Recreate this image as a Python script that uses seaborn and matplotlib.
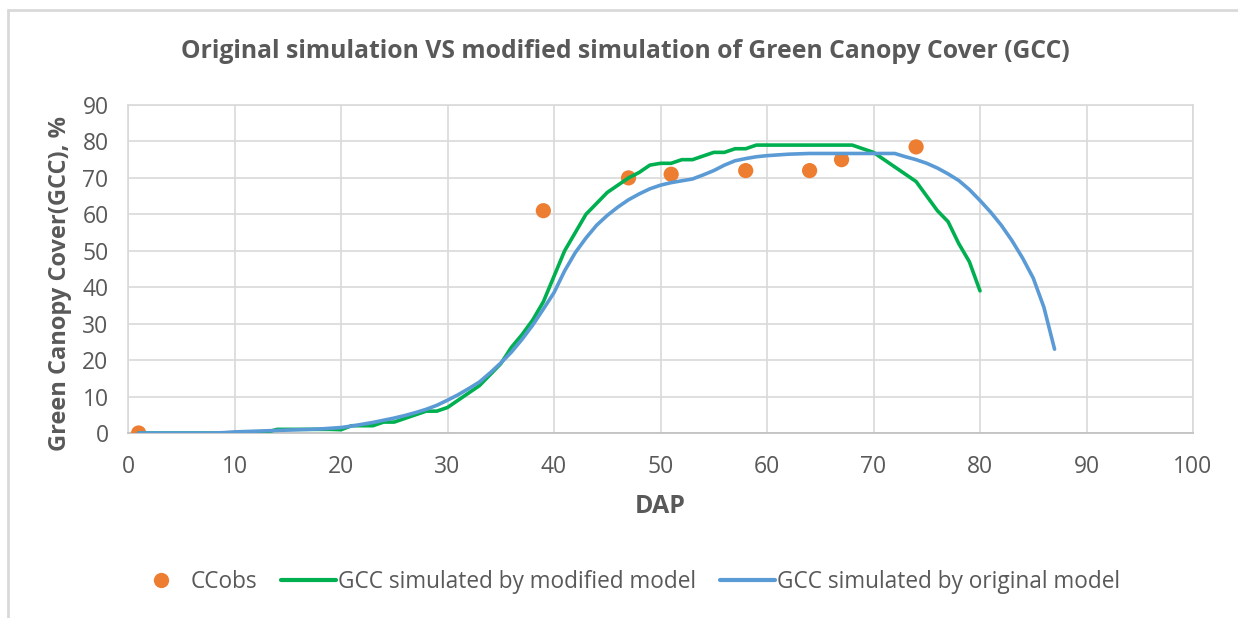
import matplotlib
matplotlib.use("Agg")
import matplotlib.pyplot as plt
from matplotlib.lines import Line2D
import seaborn as sns
import pandas as pd
import numpy as np

# ---- data ----
obs_dap = [1, 39, 47, 51, 58, 64, 67, 74]
obs_cc = [0, 61, 70, 71, 72, 72, 75, 78.5]

mod_dap = list(range(1, 81))
mod_cc = [0, 0, 0, 0, 0, 0, 0, 0, 0, 0,
          0, 0, 0.2, 1.0, 1.0, 1.0, 1.0, 1.0, 1.0, 0.9,
          2.0, 2.0, 2.0, 3.0, 3.0, 4.0, 5.0, 6.0, 6.0, 7.0,
          9.0, 11.0, 13.0, 16.0, 19.0, 23.5, 27.0, 31.0, 36.0, 43.0,
          50.0, 55.0, 60.0, 63.0, 66.0, 68.0, 70.0, 71.5, 73.5, 74.0,
          74.0, 75.0, 75.0, 76.0, 77.0, 77.0, 78.0, 78.0, 79.0, 79.0,
          79.0, 79.0, 79.0, 79.0, 79.0, 79.0, 79.0, 79.0, 78.0, 77.0,
          75.0, 73.0, 71.0, 69.0, 65.0, 61.0, 58.0, 52.0, 47.0, 39.0]

orig_dap = list(range(1, 88))
orig_cc = [0, 0, 0, 0, 0, 0, 0, 0, 0.1, 0.3,
           0.4, 0.5, 0.6, 0.7, 0.8, 0.9, 1.0, 1.1, 1.3, 1.5,
           1.9, 2.4, 2.9, 3.5, 4.1, 4.8, 5.6, 6.5, 7.6, 9.0,
           10.5, 12.2, 14.0, 16.5, 19.2, 22.2, 25.7, 29.6, 34.0, 38.5,
           44.5, 49.5, 53.5, 57.0, 59.7, 62.0, 64.0, 65.6, 67.0, 68.0,
           68.7, 69.2, 69.7, 70.8, 72.0, 73.5, 74.7, 75.3, 75.8, 76.1,
           76.3, 76.5, 76.6, 76.7, 76.7, 76.7, 76.7, 76.7, 76.7, 76.7,
           76.7, 76.7, 75.8, 75.0, 74.0, 72.7, 71.1, 69.3, 66.8, 63.8,
           60.6, 57.0, 52.8, 48.0, 42.5, 34.5, 23.0]

x_ticks = [0, 10, 20, 30, 40, 50, 60, 70, 80, 90, 100]
y_ticks = [0, 10, 20, 30, 40, 50, 60, 70, 80, 90]

title = "Original simulation VS modified simulation of Green Canopy Cover (GCC)"
xlabel = "DAP"
ylabel = "Green Canopy Cover(GCC), %"
lab_obs = "CCobs"
lab_mod = "GCC simulated by modified model"
lab_orig = "GCC simulated by original model"

# ---- style ----
sns.set_theme(style="white")
plt.rcParams['font.family'] = ['Open Sans', 'DejaVu Sans']

TXT = "#595959"
GRID = "#D9D9D9"
C_OBS = "#ED7D31"
C_MOD = "#00B050"
C_ORIG = "#5B9BD5"

fig = plt.figure(figsize=(12.38, 6.18), dpi=100)
ax = fig.add_axes([128/1238, 1-433/618, (1193-128)/1238, (433-105)/618])

df_obs = pd.DataFrame({"DAP": obs_dap, "CC": obs_cc})
df_mod = pd.DataFrame({"DAP": mod_dap, "CC": mod_cc})
df_orig = pd.DataFrame({"DAP": orig_dap, "CC": orig_cc})

sns.scatterplot(data=df_obs, x="DAP", y="CC", color=C_OBS, s=120, edgecolor="none",
                ax=ax, legend=False, zorder=3)
sns.lineplot(data=df_mod, x="DAP", y="CC", color=C_MOD, lw=2.6, ax=ax, legend=False, zorder=4)
sns.lineplot(data=df_orig, x="DAP", y="CC", color=C_ORIG, lw=2.6, ax=ax, legend=False, zorder=5)

ax.set_xlim(0, 100)
ax.set_ylim(0, 90)
ax.set_xticks(x_ticks)
ax.set_yticks(y_ticks)
ax.grid(True, color=GRID, lw=1.2)
ax.set_axisbelow(True)
for s in ax.spines.values():
    s.set_color(GRID)
    s.set_linewidth(1.2)
ax.spines['bottom'].set_color("#BFBFBF")
ax.tick_params(axis='both', length=0, labelsize=16.5, labelcolor=TXT)
ax.tick_params(axis='x', pad=16)
ax.tick_params(axis='y', pad=14)

ax.set_xlabel(xlabel, fontsize=18, fontweight='bold', color=TXT, va='center')
ax.xaxis.set_label_coords(0.4995, -0.2256)
ax.set_ylabel(ylabel, fontsize=17, fontweight='bold', color=TXT, va='center')
ax.yaxis.set_label_coords(-0.0638, 0.457)

fig.text(625/1238, 1-52/618, title, ha='center', va='center', fontsize=17.8,
         fontweight='bold', color=TXT)

handles = [
    Line2D([], [], ls='none', marker='o', markersize=11, color=C_OBS, markeredgecolor='none'),
    Line2D([], [], color=C_MOD, lw=3),
    Line2D([], [], color=C_ORIG, lw=3),
]
fig.legend(handles, [lab_obs, lab_mod, lab_orig], loc='center',
           bbox_to_anchor=(627/1238, 1-582/618), ncol=3, frameon=False,
           fontsize=16.3, labelcolor=TXT, handlelength=2.4, handletextpad=0.1,
           columnspacing=1.07)

# chart-area border (top and left visible)
fig.add_artist(Line2D([8/1238, 1], [1-10/618, 1-10/618], color=GRID, lw=2, transform=fig.transFigure))
fig.add_artist(Line2D([8/1238, 8/1238], [0, 1-10/618], color=GRID, lw=2, transform=fig.transFigure))

fig.savefig("out.png", dpi=100, facecolor="white")
